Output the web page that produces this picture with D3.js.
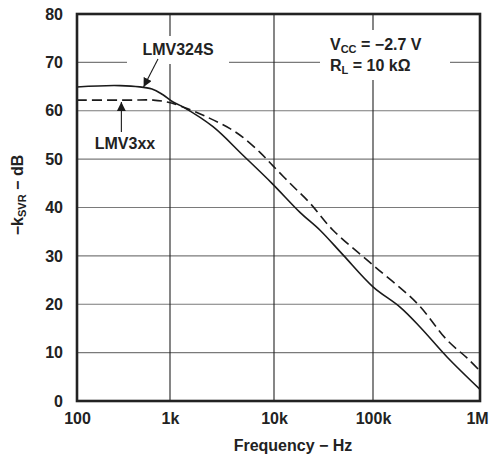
<!DOCTYPE html>
<html>
<head>
<meta charset="utf-8">
<script src="https://cdn.jsdelivr.net/npm/d3@7"></script>
<style>
  body { margin: 0; background: #fff; }
  text { font-family: "Liberation Sans", Arial, sans-serif; font-weight: bold; fill: #222; }
</style>
</head>
<body>
<div id="chart"></div>
<script>
// data
var freqTicks = [100, 1e3, 1e4, 1e5, 1e6];
var freqLabels = ["100", "1k", "10k", "100k", "1M"];
var dbTicks = [0, 10, 20, 30, 40, 50, 60, 70, 80];

var lmv324sFreq = [100, 290, 640, 840, 1070, 1330, 2590, 5030, 9560, 18300, 29200, 49800, 100000, 179000, 275000, 492000, 1000000];
var lmv324sDb   = [64.9, 65.2, 64.5, 63.3, 61.8, 60.8, 56.7, 50.8, 45.0, 39.0, 35.3, 30.2, 23.6, 19.4, 15.3, 9.1, 2.4];

var lmv3xxFreq = [100, 370, 660, 930, 1330, 2270, 3780, 5030, 7330, 9780, 15200, 23100, 39500, 100000, 258000, 492000, 756000, 1000000];
var lmv3xxDb   = [62.2, 62.2, 62.2, 61.8, 60.8, 58.7, 56.3, 54.5, 51.4, 48.6, 44.6, 40.9, 35.3, 28.1, 20.2, 12.6, 8.9, 6.2];

var W = 489, H = 455;
var pLeft = 77, pRight = 480, pTop = 14, pBottom = 401;
var fs = "16px";

var svg = d3.select("#chart").append("svg")
  .attr("width", W)
  .attr("height", H);

// the scan has slightly uneven decades, so the log scale is piecewise
var x = d3.scaleLog()
  .domain(freqTicks)
  .range([77, 170, 274, 373, 480]);

var y = d3.scaleLinear()
  .domain([0, 80])
  .range([pBottom, pTop]);

// horizontal grid (grey)
svg.append("g")
  .selectAll("line")
  .data(dbTicks.slice(1, -1))
  .enter().append("line")
    .attr("x1", pLeft).attr("x2", pRight)
    .attr("y1", function(d) { return y(d); })
    .attr("y2", function(d) { return y(d); })
    .style("stroke", "#7a7a7a")
    .style("stroke-width", 1.2);

// vertical grid (dark)
svg.append("g")
  .selectAll("line")
  .data(freqTicks.slice(1, -1))
  .enter().append("line")
    .attr("x1", function(d) { return x(d); })
    .attr("x2", function(d) { return x(d); })
    .attr("y1", pTop).attr("y2", pBottom)
    .style("stroke", "#222")
    .style("stroke-width", 1.1);

// axis labels via d3 axes, no lines
var yAxis = svg.append("g")
  .attr("transform", "translate(" + pLeft + ",0)")
  .call(d3.axisLeft(y).tickValues(dbTicks).tickSize(0).tickPadding(14));
yAxis.select(".domain").remove();
yAxis.selectAll("text")
  .style("font-size", fs)
  .style("font-family", "'Liberation Sans', Arial, sans-serif")
  .style("font-weight", "bold")
  .attr("fill", "#222");

var xAxis = svg.append("g")
  .attr("transform", "translate(0," + pBottom + ")")
  .call(d3.axisBottom(x).tickValues(freqTicks)
    .tickFormat(function(d, i) { return freqLabels[i]; })
    .tickSize(0).tickPadding(12));
xAxis.select(".domain").remove();
xAxis.selectAll("text")
  .style("font-size", fs)
  .style("font-family", "'Liberation Sans', Arial, sans-serif")
  .style("font-weight", "bold")
  .attr("fill", "#222");
// keep "1M" inside the window, like the scan
xAxis.selectAll("text").filter(function(d) { return d === 1e6; })
  .attr("dx", -3);

// label boxes punch holes in the grid
svg.append("rect").attr("x", 127).attr("y", 36).attr("width", 102).attr("height", 28).style("fill", "#fff");
svg.append("rect").attr("x", 320).attr("y", 30).attr("width", 130).attr("height", 50).style("fill", "#fff");
svg.append("rect").attr("x", 88).attr("y", 132).attr("width", 74).attr("height", 22).style("fill", "#fff");

// curves
var line = d3.line()
  .x(function(d) { return x(d[0]); })
  .y(function(d) { return y(d[1]); })
  .curve(d3.curveCatmullRom.alpha(0.5));

svg.append("path")
  .datum(d3.zip(lmv324sFreq, lmv324sDb))
  .attr("d", line)
  .style("fill", "none")
  .style("stroke", "#1a1a1a")
  .style("stroke-width", 1.6);

svg.append("path")
  .datum(d3.zip(lmv3xxFreq, lmv3xxDb))
  .attr("d", line)
  .style("fill", "none")
  .style("stroke", "#1a1a1a")
  .style("stroke-width", 1.6)
  .style("stroke-dasharray", "10,5");

// frame
svg.append("rect")
  .attr("x", pLeft).attr("y", pTop)
  .attr("width", pRight - pLeft).attr("height", pBottom - pTop)
  .style("fill", "none")
  .style("stroke", "#222")
  .style("stroke-width", 2.6);

// arrows
svg.append("defs").append("marker")
  .attr("id", "arr")
  .attr("viewBox", "0 0 10 10")
  .attr("refX", 10).attr("refY", 5)
  .attr("markerWidth", 9).attr("markerHeight", 9)
  .attr("markerUnits", "userSpaceOnUse")
  .attr("orient", "auto")
  .append("path")
    .attr("d", "M0,0 L10,5 L0,10 Z")
    .style("fill", "#1a1a1a");

svg.append("line")
  .attr("x1", 158).attr("y1", 59)
  .attr("x2", x(520)).attr("y2", y(64.7) - 1)
  .style("stroke", "#1a1a1a").style("stroke-width", 1.1)
  .attr("marker-end", "url(#arr)");

svg.append("line")
  .attr("x1", x(300)).attr("y1", 132)
  .attr("x2", x(300)).attr("y2", y(62.2) + 2)
  .style("stroke", "#1a1a1a").style("stroke-width", 1.1)
  .attr("marker-end", "url(#arr)");

// annotations
svg.append("text").attr("x", 178).attr("y", 55)
  .attr("text-anchor", "middle").style("font-size", fs)
  .text("LMV324S");

svg.append("text").attr("x", 125).attr("y", 149)
  .attr("text-anchor", "middle").style("font-size", fs)
  .text("LMV3xx");

var t1 = svg.append("text").attr("x", 330).attr("y", 50).style("font-size", fs);
t1.append("tspan").text("V");
t1.append("tspan").attr("dy", 3).style("font-size", "11px").text("CC");
t1.append("tspan").attr("dy", -3).text(" = \u22122.7 V");

var t2 = svg.append("text").attr("x", 330).attr("y", 71).style("font-size", fs);
t2.append("tspan").text("R");
t2.append("tspan").attr("dy", 3).style("font-size", "11px").text("L");
t2.append("tspan").attr("dy", -3).text(" = 10 k\u03A9");

// axis titles
svg.append("text")
  .attr("x", 293).attr("y", 451)
  .attr("text-anchor", "middle").style("font-size", fs)
  .text("Frequency \u2212 Hz");

var yt = svg.append("text")
  .attr("transform", "translate(23,195) rotate(-90)")
  .attr("text-anchor", "middle").style("font-size", fs);
yt.append("tspan").text("\u2212k");
yt.append("tspan").attr("dy", 3).style("font-size", "11px").text("SVR");
yt.append("tspan").attr("dy", -3).text(" \u2212 dB");
</script>
</body>
</html>
